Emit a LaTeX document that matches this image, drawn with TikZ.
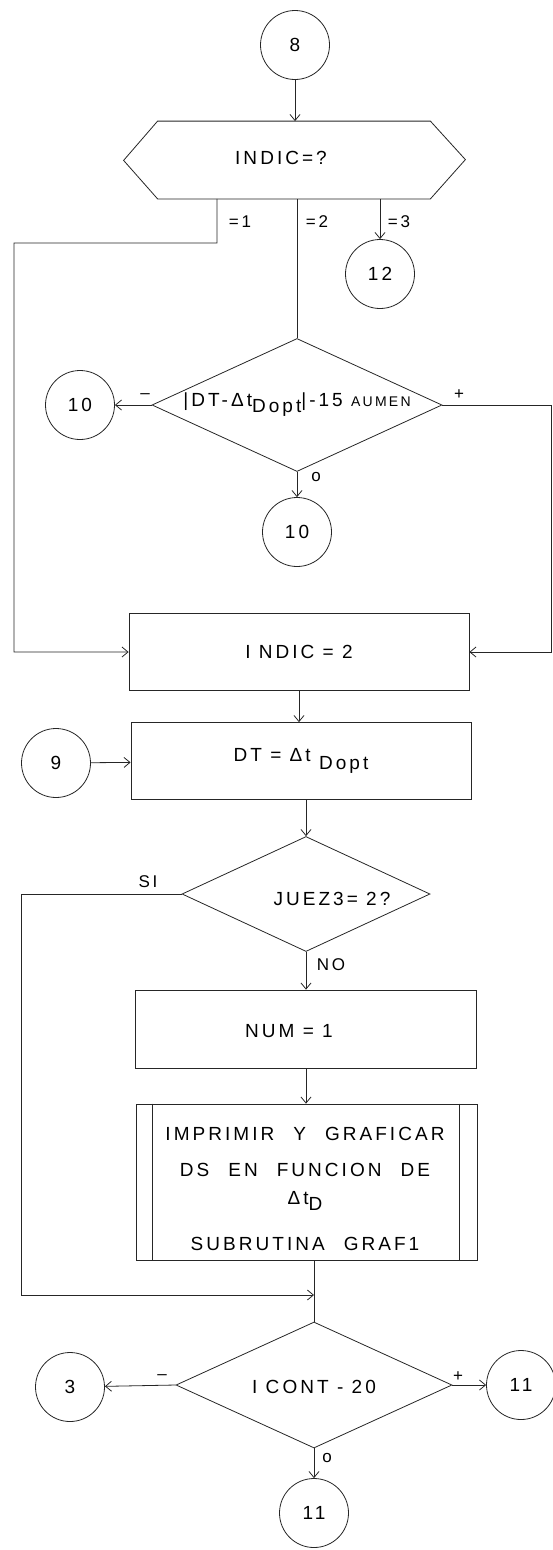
\documentclass[tikz,border=0pt]{standalone}
\usepackage{fontspec}
\setmainfont{Liberation Sans}[LetterSpace=16]
\usetikzlibrary{arrows.meta,positioning,calc,shapes.geometric}

\begin{document}
\begin{tikzpicture}[x=1pt,y=-1pt,line width=0.8pt,draw=black!85,
    conn/.style={circle,draw,minimum size=69pt,inner sep=0pt,font=\fontsize{19}{22}\selectfont},
    proc/.style={rectangle,draw,minimum width=340pt,minimum height=77pt,font=\fontsize{19}{22}\selectfont},
    dec/.style={diamond,draw,inner sep=0pt},
    txt/.style={font=\fontsize{19}{22}\selectfont,inner sep=0pt},
    lbl/.style={font=\fontsize{17}{18}\selectfont,inner sep=1pt},
    arr/.style={-{Straight Barb[length=6pt,width=10pt]}}]
  \useasboundingbox (0,0) rectangle (553,1550);
  % top: entry and multiway test
  \node[conn] (c8) at (295,45) {8};
  \node[minimum width=272pt,minimum height=77pt,inner sep=0pt] (hx) at (294,160) {};
  \draw (hx.north west) -- (hx.north east) -- ++(35,38.5) -- (hx.south east)
        -- (hx.south west) -- ++(-34,-38.5) -- cycle;
  \node[txt] (thx) at (281,158) {INDIC=?};
  \draw[arr] (c8) -- (c8 |- hx.north);
  \node[conn] (c12) at (380,274) {12};
  \draw[arr] ([xshift=86pt]hx.south) -- (c12);
  \node[lbl] (l1) at (240,222) {=1};
  \node[lbl] (l2) at (317,222) {=2};
  \node[lbl] (l3) at (399,222) {=3};

  % second test
  \node[dec,minimum width=290pt,minimum height=133pt] (d1) at (297,405) {};
  \node[txt] (td1) at (297,405) {|DT-Δt\raisebox{-6pt}{Dopt}|-15 {\fontsize{14}{16}\selectfont AUMEN}};
  \draw ([xshift=3pt]hx.south) -- (d1.north);
  \node[conn] (c10a) at (80,405) {10};
  \node[conn] (c10b) at (297,532) {10};
  \draw[arr] (d1.west) -- (c10a);
  \draw[arr] (d1.south) -- (c10b);
  \node[lbl] (lm1) at (145,396) {–};
  \node[lbl] (lp1) at (459,395) {+};
  \node[lbl] (lo1) at (316,477) {o};

  % assignments
  \node[proc] (b1) at (299,652) {I NDIC = 2};
  \node[proc] (b2) at (301,761) {DT = Δt\raisebox{-8pt}{ Dopt}};
  \node[conn] (c9) at (56,763) {9};
  \draw[arr] ([xshift=-77pt]hx.south) -- ++(0,44) -- (14,243) |- (b1.west);
  \draw[arr] (d1.east) -- (551,405) |- (b1.east);
  \draw[arr] (b1.south) -- (b1.south |- b2.north);
  \draw[arr] (c9) -- (b2);

  % JUEZ3 test
  \node[dec,minimum width=248pt,minimum height=115pt] (d2) at (306,894) {};
  \node[txt] (td2) at (332,899) {JUEZ3= 2?};
  \draw[arr] (d2.north |- b2.south) -- (d2.north);
  \node[lbl] (lsi) at (148,882) {SI};
  \node[lbl] (lno) at (331,965) {NO};
  \node[proc,minimum width=341pt,minimum height=78pt] (b3) at (306,1029) {};
  \node[txt] (tb3) at (289,1031) {NUM = 1};
  \draw[arr] (d2.south) -- (b3.north);

  % subroutine
  \node[rectangle,draw,minimum width=341pt,minimum height=156pt] (sub) at (307,1182) {};
  \draw ([xshift=16pt]sub.north west) -- ([xshift=16pt]sub.south west);
  \draw ([xshift=-19pt]sub.north east) -- ([xshift=-19pt]sub.south east);
  \node[txt,align=center] (tsub) at (305,1189) {IMPRIMIR\quad Y\quad GRAFICAR\\[14pt]
        DS\quad EN\quad FUNCION\quad DE\\[6pt]
        Δt\smash{\raisebox{-6pt}{D}}\\[24pt]
        SUBRUTINA\quad GRAF1};
  \draw[arr] (b3.south) -- (b3.south |- sub.north);

  % final test
  \node[dec,minimum width=276pt,minimum height=126pt] (d3) at (314,1385) {};
  \node[txt] (td3) at (314,1387) {I CONT - 20};
  \coordinate (jn) at (d3.north |- 0,1295);
  \draw (d3.north |- sub.south) -- (d3.north);
  \draw[arr] (d2.west) -- (21,894) |- (jn);
  \node[conn] (c3) at (70,1387) {3};
  \node[conn] (c11a) at (521,1385) {11};
  \node[conn] (c11b) at (314,1513) {11};
  \draw[arr] (d3.west) -- (c3);
  \draw[arr] (d3.east) -- (c11a);
  \draw[arr] (d3.south) -- (c11b);
  \node[lbl] (lm3) at (162,1377) {–};
  \node[lbl] (lp3) at (458,1377) {+};
  \node[lbl] (lo3) at (327,1458) {o};
\end{tikzpicture}
\end{document}
